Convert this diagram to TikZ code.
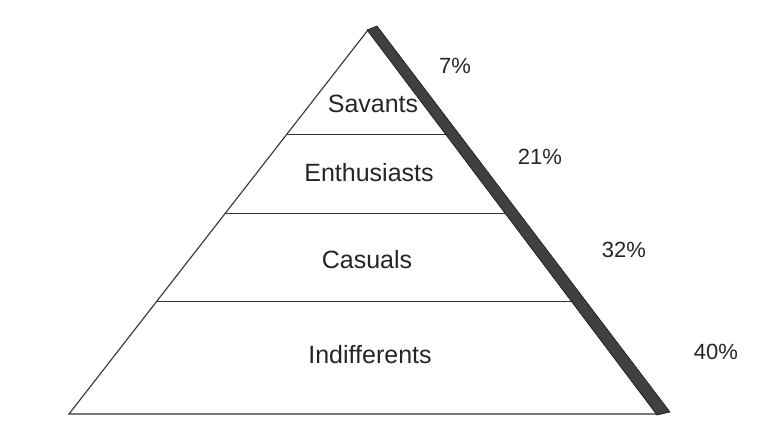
\documentclass[tikz,border=0pt]{standalone}
\usepackage{fontspec}
\setmainfont{Liberation Sans}
\usetikzlibrary{calc}

\begin{document}
\begin{tikzpicture}[
    x=1pt, y=-1pt,
    tier/.style={font=\fontsize{25}{29}\selectfont, text=black!85},
    pct/.style={font=\fontsize{22}{26}\selectfont, text=black!85},
    edge/.style={draw=black!80, line width=1.1pt},
    shadow/.style={fill=black!75, draw=black!90, line width=0.6pt}]

    \useasboundingbox[fill=white] (0,0) rectangle (758,430);

    \coordinate (apex) at (368,30);
    \coordinate (baseL) at (69,414);
    \coordinate (baseR) at (657,414);

    \draw[edge] (baseL) -- (apex) -- (baseR) -- cycle;
    \draw[edge] ($(apex)!0.273!(baseL)$) -- ($(apex)!0.273!(baseR)$);
    \draw[edge] ($(apex)!0.477!(baseL)$) -- ($(apex)!0.477!(baseR)$);
    \draw[edge] ($(apex)!0.706!(baseL)$) -- ($(apex)!0.706!(baseR)$);

    % dark band along the right side
    \path[shadow] (367,30) -- (377,26) -- (670,412) -- (657,415) -- cycle;

    \node[tier] (savants) at (373,104) {Savants};
    \node[tier] (enthusiasts) at (369,173) {Enthusiasts};
    \node[tier] (casuals) at (367,260) {Casuals};
    \node[tier] (indifferents) at (370,355) {Indifferents};

    \node[pct] (p7) at (455,66) {7\%};
    \node[pct] (p21) at (540,157) {21\%};
    \node[pct] (p32) at (624,250) {32\%};
    \node[pct] (p40) at (716,352) {40\%};
\end{tikzpicture}
\end{document}
